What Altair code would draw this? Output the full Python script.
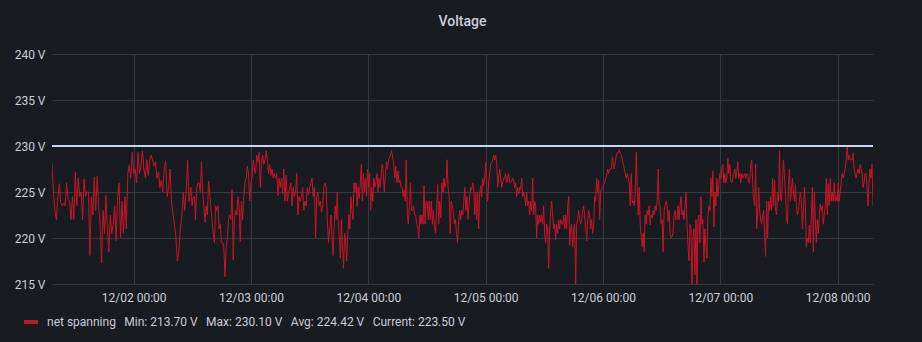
import altair as alt
import pandas as pd

# ---- data ----
GAP = " \u00a0\u2009"
SERIES_NAME = GAP.join(["net spanning", "Min: 213.70 V", "Max: 230.10 V", "Avg: 224.42 V", "Current: 223.50 V"])

# segment time spans (start, end) for each block of readings
seg_times = [
    ("2023-12-01 07:18", "2023-12-02 11:20"),
    ("2023-12-02 11:28", "2023-12-03 16:06"),
    ("2023-12-03 16:22", "2023-12-04 20:36"),
    ("2023-12-04 20:44", "2023-12-06 01:22"),
    ("2023-12-06 01:43", "2023-12-07 06:01"),
    ("2023-12-07 06:13", "2023-12-08 07:14"),
]

seg_a = [228.1, 225.0, 223.0, 222.0, 224.5, 225.9, 223.8, 223.5, 223.8, 223.5, 226.0, 224.2, 224.0, 222.0,
         224.5, 222.0, 227.2, 223.5, 226.5, 224.5, 225.0, 222.0, 226.4, 224.5, 225.0, 225.0, 218.1, 224.5,
         222.5, 226.6, 223.0, 226.7, 223.5, 221.5, 217.3, 223.0, 220.5, 224.6, 221.0, 218.5, 222.5, 220.5,
         221.5, 223.5, 219.7, 224.5, 226.0, 220.0, 224.0, 220.5, 224.5, 221.0, 227.0, 227.9, 226.5, 229.3,
         227.0, 227.5, 226.0, 229.3, 227.0, 227.8, 229.5, 227.5, 226.5, 228.5, 226.8, 228.5, 229.0, 228.5,
         227.8, 228.3, 226.5, 227.2, 225.5, 226.3, 225.0, 227.5, 228.4, 224.5, 225.5, 227.5, 224.0, 222.5,
         221.5, 220.0, 217.5, 218.5, 221.0, 222.2, 225.0, 223.0, 225.0, 228.5, 224.0]

seg_b = [224.5, 225.5, 223.5, 224.5, 224.5, 222.0, 225.5, 226.0, 226.0, 225.0, 228.3, 225.0, 223.5, 221.7,
         223.5, 222.5, 226.2, 225.0, 223.3, 222.0, 220.5, 219.5, 223.5, 223.0, 223.5, 221.0, 221.5, 219.5,
         219.5, 219.0, 215.8, 219.0, 220.0, 222.0, 222.5, 222.0, 225.3, 217.6, 222.0, 223.0, 222.5, 224.5,
         223.5, 219.6, 224.0, 222.0, 224.5, 226.0, 226.5, 227.8, 227.0, 224.0, 226.0, 226.5, 228.5, 227.5,
         227.0, 229.0, 228.3, 229.3, 225.5, 228.0, 229.0, 228.0, 228.5, 229.5, 228.5, 227.0, 228.0, 226.8,
         227.5, 226.5, 227.0, 226.5, 227.0, 224.6, 226.5, 225.5, 226.5, 224.8, 227.5, 224.0, 226.8, 224.0,
         224.8, 225.5, 226.0, 223.5, 225.5, 224.5, 225.0, 227.0, 222.5, 224.5, 224.0, 224.5, 225.5, 223.0,
         224.0, 223.5, 225.5, 224.7, 225.5, 226.0, 226.5, 224.5, 225.5, 220.0, 224.5, 225.0, 223.5, 224.0,
         222.8, 223.3, 225.5, 226.0, 225.5, 222.0, 219.5, 221.0]

seg_c = [222.5, 220.0, 218.1, 221.2, 223.5, 222.0, 225.0, 221.5, 220.0, 217.8, 222.0, 219.0, 216.7, 220.5,
         219.5, 217.5, 220.0, 222.5, 221.0, 224.5, 223.0, 222.0, 226.0, 225.0, 226.0, 223.5, 225.5, 224.3,
         226.0, 228.0, 224.0, 227.0, 225.0, 226.5, 224.5, 227.5, 225.5, 227.0, 223.0, 225.5, 224.0, 226.5,
         225.5, 226.0, 227.0, 225.0, 226.5, 225.5, 227.0, 228.0, 227.0, 225.0, 226.8, 228.3, 227.5, 228.5,
         228.8, 229.0, 229.5, 228.8, 228.0, 226.5, 227.8, 226.0, 227.3, 226.0, 226.3, 225.5, 225.5, 224.5,
         225.2, 224.0, 228.5, 222.5, 221.5, 223.5, 226.0, 223.0, 223.0, 223.5, 222.5, 222.5, 221.5, 221.0,
         220.0, 222.5, 221.5, 222.5, 221.5, 225.7, 221.5, 224.0, 224.0, 222.0, 224.0, 222.0, 224.0, 221.5,
         223.0, 221.0, 220.5, 223.0, 225.8, 221.5, 224.0, 222.2, 226.0, 225.0, 226.5, 225.5, 226.0, 228.5,
         225.5, 224.5, 220.5, 224.0, 223.5, 223.0, 221.5, 222.0, 220.5, 219.5, 221.5, 223.0, 222.0, 223.0,
         222.5, 224.0, 225.5, 223.0, 224.5, 222.0, 223.5]

seg_d = [224.5, 225.5, 225.2, 226.0, 225.5, 222.5, 225.0, 222.0, 225.0, 221.0, 224.8, 225.7, 224.5, 226.5,
         225.7, 226.5, 228.2, 225.5, 224.0, 226.0, 227.0, 228.0, 228.2, 228.5, 229.0, 228.5, 229.0, 228.2,
         225.5, 226.5, 227.5, 226.5, 225.5, 226.0, 226.5, 226.5, 227.0, 226.0, 226.5, 227.0, 226.0, 226.0,
         226.2, 226.5, 226.2, 225.5, 226.0, 224.5, 225.5, 224.8, 225.5, 225.3, 226.5, 224.5, 225.0, 224.5,
         223.5, 225.0, 223.5, 224.0, 222.5, 224.0, 223.0, 226.5, 222.5, 224.0, 223.5, 220.0, 222.5, 221.5,
         222.5, 221.7, 222.5, 221.5, 223.5, 220.5, 219.5, 221.5, 221.0, 216.7, 220.8, 223.0, 224.0, 222.5,
         221.0, 221.5, 219.8, 221.5, 220.5, 222.0, 221.0, 222.0, 221.5, 221.5, 222.5, 221.0, 222.5, 221.0,
         223.5, 224.5, 219.2, 221.0, 221.5, 219.0, 221.0, 221.5, 214.8, 221.5, 222.0, 223.0, 222.0, 221.5,
         222.0, 223.0, 223.5, 222.5, 221.0, 219.7, 222.0, 223.0, 222.5, 221.0, 222.0, 220.5, 221.5, 224.5,
         224.0, 226.5, 225.0, 226.3, 222.0, 225.0, 225.3, 225.5, 225.8, 226.0, 226.5, 226.8, 227.5, 227.0,
         227.5]

seg_e = [227.5, 228.8, 228.0, 227.5, 228.3, 229.0, 229.3, 229.3, 229.6, 229.2, 229.0, 228.5, 228.0, 227.5,
         227.0, 226.5, 227.0, 226.5, 226.0, 223.5, 227.0, 223.8, 224.0, 223.5, 225.0, 229.3, 225.5, 222.5,
         225.5, 221.5, 220.1, 219.0, 220.5, 218.5, 222.5, 221.5, 223.0, 222.5, 223.5, 221.4, 222.5, 222.2,
         223.0, 222.5, 223.5, 223.0, 224.0, 227.5, 223.5, 223.5, 221.5, 222.0, 218.5, 223.0, 223.5, 224.0,
         223.5, 221.8, 223.0, 220.5, 220.0, 220.2, 220.5, 222.5, 223.0, 222.0, 222.0, 223.5, 222.0, 223.5,
         224.5, 222.5, 223.0, 222.0, 223.5, 225.0, 221.5, 219.2, 217.5, 221.5, 221.0, 213.7, 220.0, 221.0,
         216.0, 222.0, 214.5, 222.0, 222.5, 219.5, 224.5, 221.5, 222.0, 217.4, 221.0, 219.0, 217.8, 222.5,
         223.5, 223.0, 226.5, 224.5, 227.3, 221.2, 225.0, 223.5, 226.5, 224.5, 225.8, 227.0, 226.5, 227.5,
         228.0, 226.0, 227.0, 226.0, 226.5, 228.7, 227.0, 228.0, 226.2, 226.0, 226.5, 227.0, 227.5, 226.5,
         227.2, 228.3, 226.5, 227.0, 226.0, 227.0, 226.5, 226.7, 227.0, 226.5, 227.0, 226.7, 226.0, 226.0]

seg_f = [228.0, 228.5, 226.0, 224.1, 223.5, 228.0, 221.0, 222.5, 225.5, 223.0, 222.0, 221.5, 222.5, 223.0,
         220.1, 218.0, 224.0, 220.0, 224.0, 223.0, 224.5, 223.0, 226.5, 223.5, 226.3, 223.0, 222.5, 225.0,
         224.0, 229.5, 224.5, 224.0, 226.5, 228.5, 226.5, 225.0, 222.0, 221.5, 225.8, 227.5, 224.0, 225.2,
         226.5, 225.0, 224.0, 225.8, 223.5, 222.5, 223.0, 224.0, 225.0, 224.0, 221.0, 223.0, 225.5, 223.5,
         219.0, 220.0, 219.5, 221.4, 219.5, 222.5, 225.5, 218.5, 225.0, 222.0, 219.5, 222.0, 220.5, 222.5,
         223.7, 223.0, 223.5, 221.5, 222.5, 223.5, 226.5, 222.5, 225.9, 223.5, 226.5, 224.0, 225.0, 224.0,
         226.0, 224.0, 224.5, 224.0, 226.0, 224.0, 225.0, 226.0, 227.0, 226.5, 227.0, 227.5, 228.5, 230.1,
         228.5, 229.0, 228.5, 228.5, 228.5, 229.2, 227.5, 227.0, 226.5, 227.0, 227.5, 227.0, 228.0, 227.5,
         227.0, 225.5, 226.0, 227.0, 227.0, 225.5, 223.5, 226.0, 227.5, 226.5, 228.0, 223.5]

threshold = [230]
y_ticks = [215, 220, 225, 230, 235, 240]
x_ticks = ["2023-12-02", "2023-12-03", "2023-12-04", "2023-12-05", "2023-12-06", "2023-12-07", "2023-12-08"]

# ---- build table ----
frames = []
for (t0, t1), vals in zip(seg_times, [seg_a, seg_b, seg_c, seg_d, seg_e, seg_f]):
    times = pd.date_range(t0, t1, periods=len(vals))
    frames.append(pd.DataFrame({"time": times, "volt": vals}))
df = pd.concat(frames, ignore_index=True)
df["series"] = SERIES_NAME
df["time"] = df["time"].dt.strftime("%Y-%m-%dT%H:%M:%S")

x_start = pd.Timestamp(seg_times[0][0]).strftime("%Y-%m-%dT%H:%M:%S")
x_end = pd.Timestamp(seg_times[-1][1]).strftime("%Y-%m-%dT%H:%M:%S")
tick_vals = [alt.DateTime(year=int(s[:4]), month=int(s[5:7]), date=int(s[8:10])) for s in x_ticks]

FONT = "Roboto"
TXT = "#ccccdc"
GRID = "#35383d"

x_enc = alt.X(
    "time:T",
    scale=alt.Scale(domain=[x_start, x_end], nice=False),
    axis=alt.Axis(values=tick_vals, format="%m/%d %H:%M", title=None, grid=True,
                  labelPadding=8, labelFlush=False),
)
y_scale = alt.Scale(domain=[215, 240], nice=False, zero=False)

line = alt.Chart(df).mark_line(strokeWidth=1, clip=True, interpolate="linear").encode(
    x=x_enc,
    y=alt.Y("volt:Q", scale=y_scale,
            axis=alt.Axis(values=y_ticks, labelExpr="datum.value + ' V'", title=None, grid=True,
                          labelPadding=7)),
    color=alt.Color("series:N", scale=alt.Scale(range=["#c4162a"]),
                    legend=alt.Legend(orient="none", legendX=-30, legendY=259, title=None,
                                      symbolType="stroke", symbolStrokeWidth=4, symbolSize=196,
                                      labelFontSize=12, labelColor=TXT, labelFont=FONT,
                                      labelLimit=900, labelOffset=7, padding=0)),
)

rule = alt.Chart(pd.DataFrame({"th": threshold})).mark_rule(color="#c8d6f6", strokeWidth=2).encode(
    y=alt.Y("th:Q", scale=y_scale)
)

chart = alt.layer(line, rule).properties(
    width=821, height=230,
    title=alt.TitleParams("Voltage", anchor="middle", font=FONT, fontSize=14, fontWeight=500,
                          color=TXT, offset=19),
    autosize=alt.AutoSizeParams(type="none"),
    padding={"left": 52, "top": 54, "right": 49, "bottom": 58},
    background="#181b1f",
).configure_view(strokeWidth=0).configure_axis(
    domain=False, ticks=False, labelColor=TXT, labelFont=FONT, labelFontSize=12,
    gridColor=GRID, gridWidth=1,
)

chart.save("out.html", embed_options={"renderer": "svg", "actions": False})
